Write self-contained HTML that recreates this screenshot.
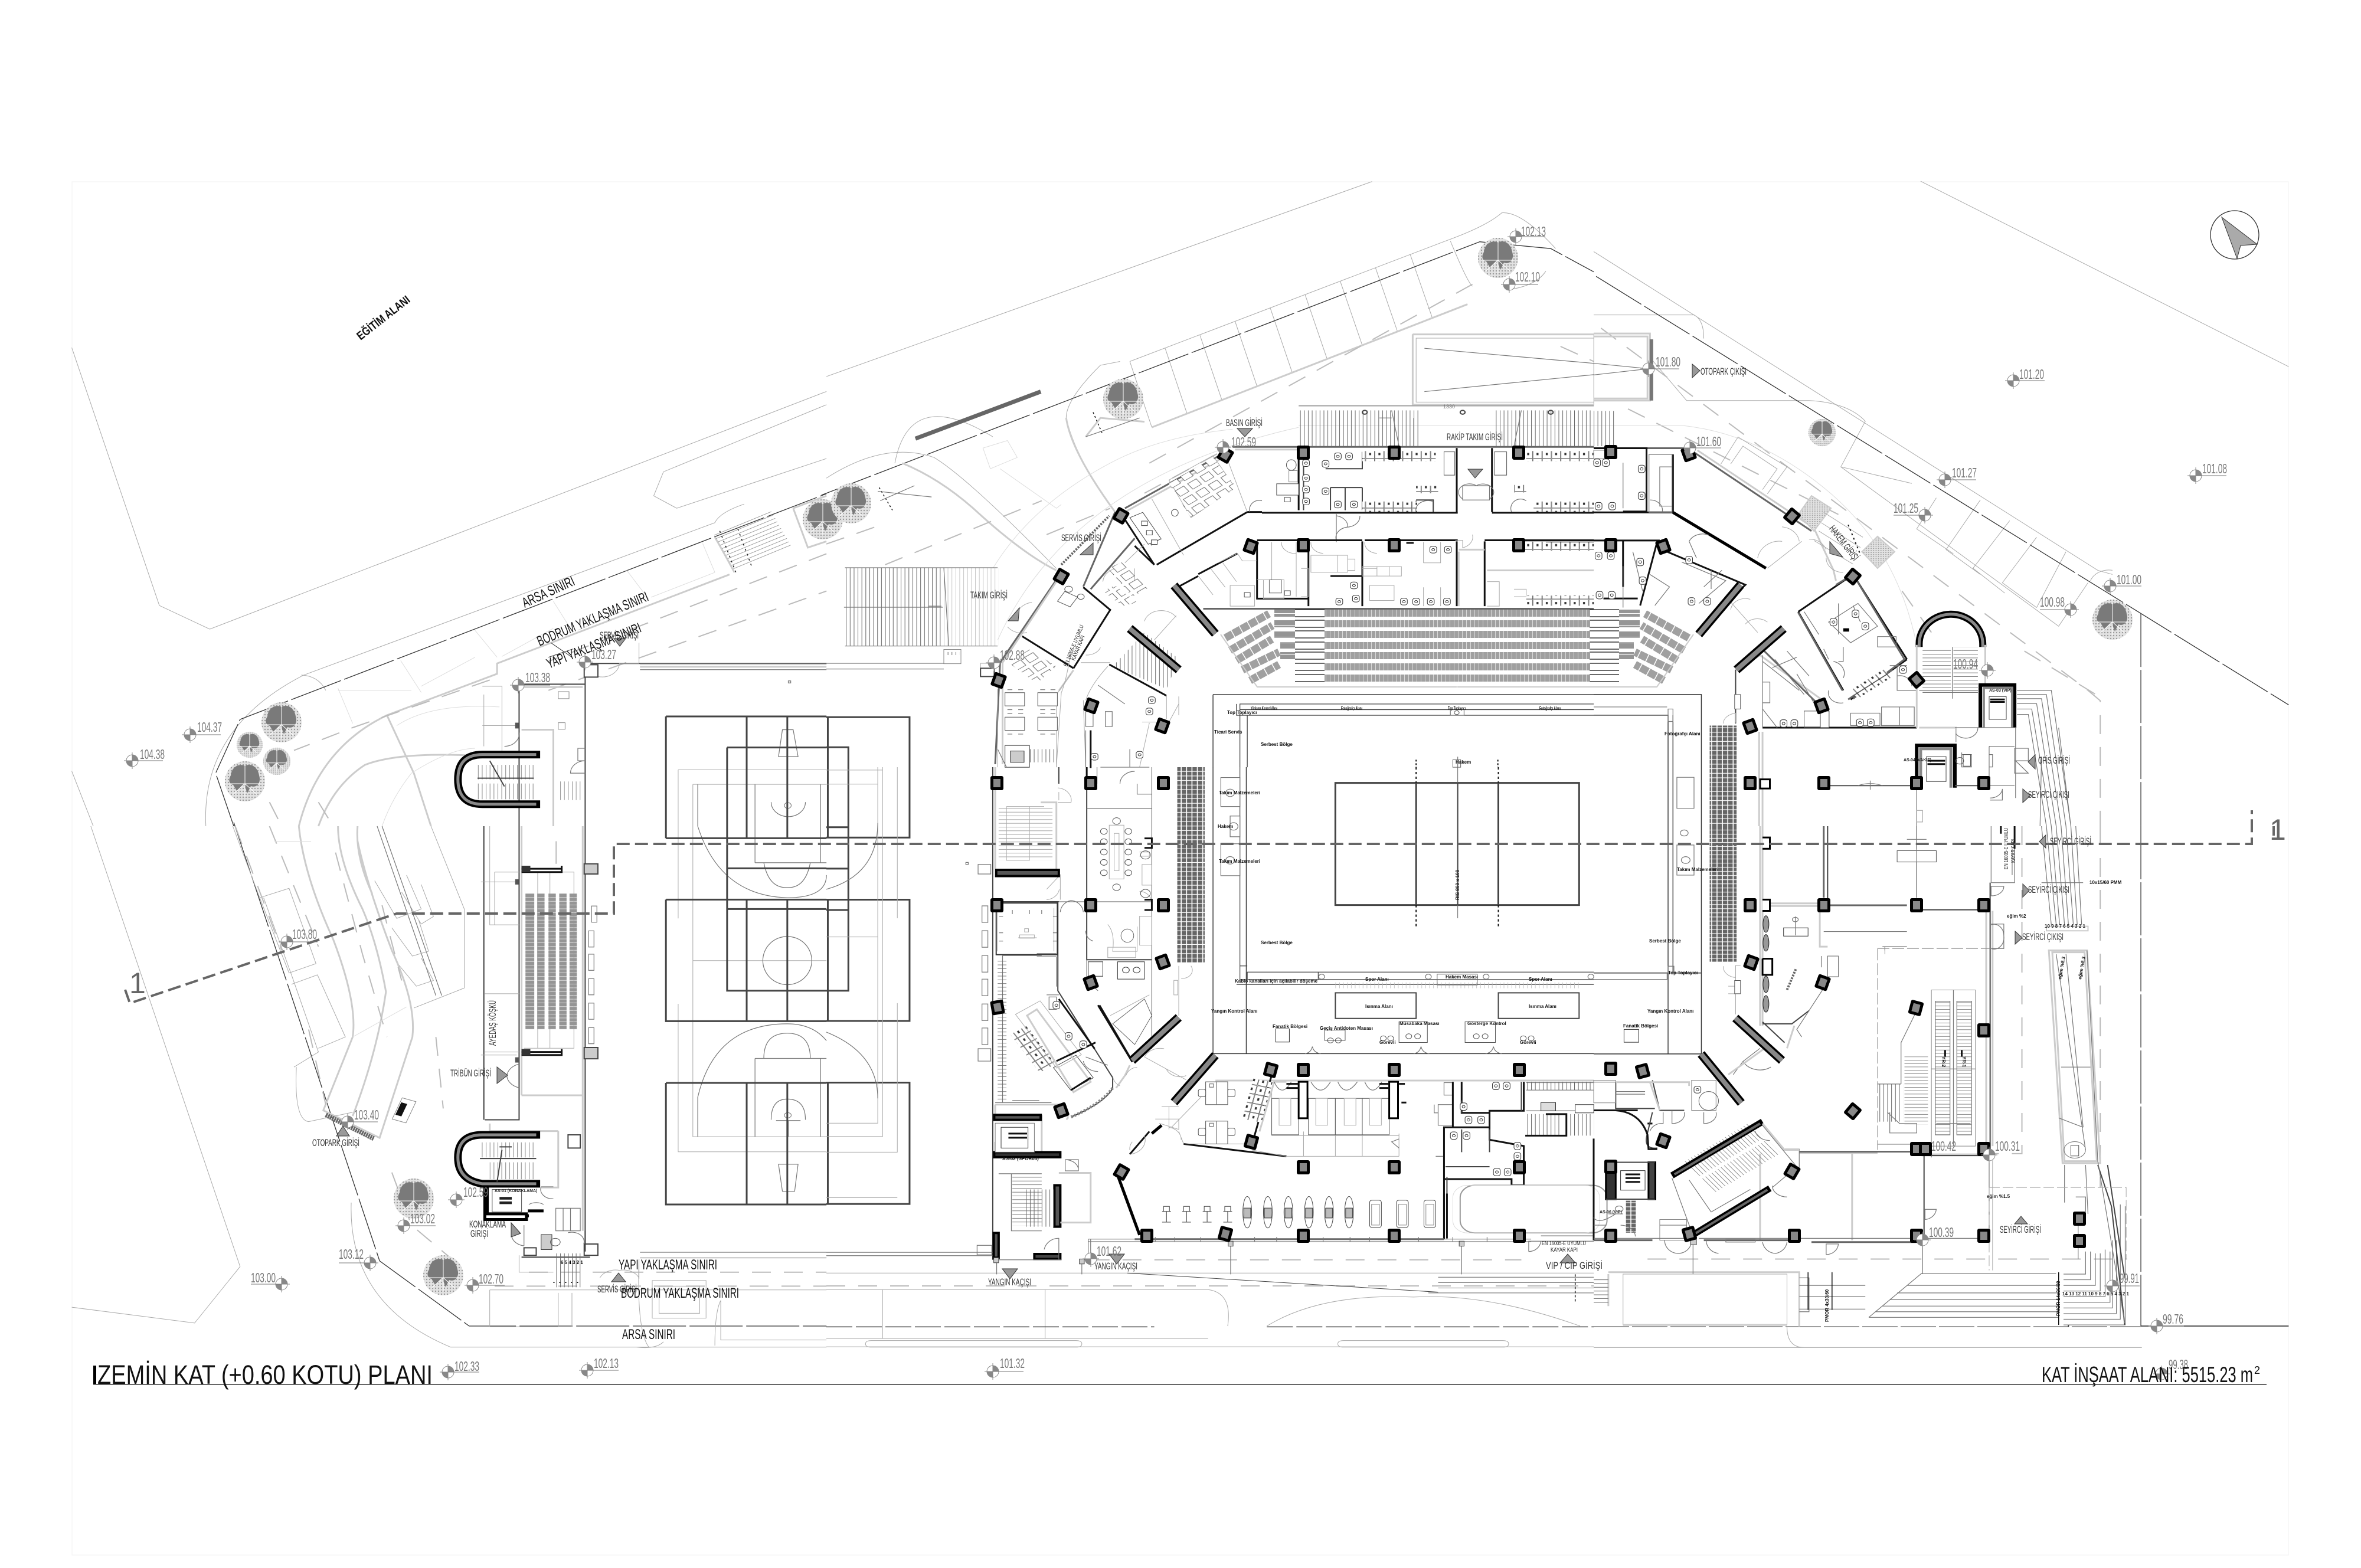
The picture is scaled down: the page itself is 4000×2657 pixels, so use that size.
<!DOCTYPE html>
<html lang="tr"><head><meta charset="utf-8"><title>Zemin Kat Planı</title>
<style>
html,body{margin:0;padding:0;background:#fff}
svg{display:block}
svg *{vector-effect:non-scaling-stroke}
text{font-family:"Liberation Sans",sans-serif;fill:#222}
.e{fill:#777;font-size:23px}
.s{fill:#333;font-size:17px}
.b{fill:#111;font-size:24px}
.m{fill:#111;font-size:8px;font-weight:bold}
.t{stroke:#aaa;stroke-width:1;fill:none}
.v{stroke:#ddd;stroke-width:1;fill:none}
.g{stroke:#777;stroke-width:1.2;fill:none}
.l{stroke:#ccc;stroke-width:3;fill:none}
.ld{stroke:#bbb;stroke-width:2;fill:none;stroke-dasharray:32 22}
.d{stroke:#444;stroke-width:2;fill:none}
.k{stroke:#111;stroke-width:3;fill:none}
.h{stroke:#000;stroke-width:5;fill:none}
.w{stroke:#666;stroke-width:3;fill:none}
.bd{stroke:#333;stroke-width:1.3;fill:none;stroke-dasharray:90 6}
.c3{stroke:#444;stroke-width:3;fill:none}
.tri{fill:#999;stroke:#333;stroke-width:1}
</style></head><body>
<svg xmlns="http://www.w3.org/2000/svg" width="4000" height="2657" viewBox="0 0 4000 2657">
<defs>
<pattern id="hv" width="8" height="10" patternUnits="userSpaceOnUse"><rect x="0" width="1.2" height="10" fill="#666"/></pattern>
<pattern id="hh" width="10" height="9" patternUnits="userSpaceOnUse"><rect y="0" width="10" height="1.2" fill="#666"/></pattern>
<pattern id="hl" width="8" height="10" patternUnits="userSpaceOnUse"><rect x="0" width="1" height="10" fill="#bbb"/></pattern>
<pattern id="sg" width="11" height="11" patternUnits="userSpaceOnUse"><rect width="9" height="9.4" fill="#666"/></pattern>
<pattern id="sr" width="7" height="12" patternUnits="userSpaceOnUse"><rect width="6.4" height="12" fill="#a0a0a0"/></pattern>
<pattern id="se" width="15" height="10" patternUnits="userSpaceOnUse"><rect width="15" height="9" fill="#959595"/></pattern>
<pattern id="lk" width="19" height="22" patternUnits="userSpaceOnUse"><rect width="18" height="21" fill="#fff" stroke="#333" stroke-width="1"/><rect x="7" y="7" width="4" height="6" fill="#333"/></pattern>
<pattern id="st" width="5" height="5" patternUnits="userSpaceOnUse"><rect width="5" height="5" fill="#e2e2e2"/><circle cx="2" cy="2" r="1.2" fill="#999"/></pattern>
<pattern id="ds" width="32" height="28" patternUnits="userSpaceOnUse" patternTransform="rotate(-37)"><rect x="3" y="3" width="22" height="18" fill="#fff" stroke="#555" stroke-width="1.2"/></pattern>
<g id="col"><rect x="-11" y="-12" width="22" height="24" rx="3" fill="#000"/><rect x="-6" y="-7" width="12" height="14" fill="#888"/></g>
<g id="tree"><circle r="34" fill="url(#st)"/><path d="M-24 -10C-22 -28-6-30 0-26 10-32 22-24 24-10 28 2 20 12 10 8L4 20-2 4-14 16-20 6C-28 4-28-4-24-10Z" fill="#7a7a7a"/><path d="M0 -28V26M0 4L-20 22M0 4L20 22M0 4L-26 4M0 4L26 4" stroke="#fff" stroke-width="1" fill="none"/></g>
<g id="mk"><circle r="10" fill="#fff" stroke="#888" stroke-width="1"/><path d="M0 -10A10 10 0 0 1 10 0H0ZM0 10A10 10 0 0 1-10 0H0Z" fill="#888"/><path d="M-14 0H14M0 -14V14" stroke="#888" stroke-width="1"/></g>
<g id="toi"><rect x="-7" y="-9" width="14" height="18" rx="5" fill="#fff" stroke="#333"/><circle r="3" fill="none" stroke="#333"/></g>
<g id="chr"><rect x="-6" y="-6" width="12" height="12" fill="#fff" stroke="#444"/></g>
<g id="sb"><path d="M0 -12V14M-9 14H9M-9 -12H9" stroke="#555" stroke-width="1.2" fill="none"/><rect x="-6" y="-24" width="12" height="12" fill="#fff" stroke="#444"/></g>
<g id="ell"><ellipse cx="0" cy="0" rx="9" ry="38" fill="#fff" stroke="#444"/><rect x="-7" y="-10" width="14" height="24" fill="#bbb" stroke="#333"/></g>
<g id="trd"><rect x="-12" y="-34" width="24" height="66" rx="5" fill="#fff" stroke="#444"/><rect x="-8" y="-24" width="16" height="50" fill="none" stroke="#888"/></g>
</defs>
<rect width="4000" height="2657" fill="#fff"/>
<rect x="122" y="308" width="3755" height="2327" fill="none" stroke="#f0f0f0" stroke-width="1"/>

<!-- Z1 NW -->
<g transform="translate(100,300) scale(.8292,.7015)">
<path class="t" d="M26 412L205 1035 308 1092 1568 518"/>
<path class="t" d="M300 1568Q290 1330 500 1203L1340 835Q1350 810 1400 790M1215 770L1235 712 1568 550M1215 770L1262 800 1568 680M495 1203Q530 1205 545 1240M26 1435L70 1568"/>
<path class="bd" d="M357 1568L320 1440 370 1310 1568 765"/>
<path class="v" d="M570 1235L600 1320M698 1168L740 1245M850 1095L895 1160M1010 1025L1050 1100M1160 950L1205 1020M1315 885L1340 955M570 1240L720 1240M740 1230L850 1160M905 1158L1010 1090M1060 1095L1185 1030M1210 1015L1340 955"/>
<path class="l" d="M1370 960L895 1175V1200L670 1300Q530 1380 490 1568M1340 870Q1355 900 1380 955M1500 800L1530 895 1568 880M1500 800L1568 770"/>
<path class="l" d="M670 1300L725 1440 760 1568M530 1568Q560 1470 625 1420 700 1385 880 1400"/>
<path class="ld" d="M1568 910L1000 1170M880 1215L600 1330 480 1385M430 1510L455 1568M530 1510L560 1568M1000 1240L1568 1000"/>
<path class="v" d="M690 1325Q760 1270 900 1280M720 1440Q800 1380 850 1380M660 1568Q680 1500 720 1440"/>
<rect x="1380" y="850" width="130" height="100" fill="url(#hh)" transform="rotate(-26 1380 950)" opacity=".7"/>
<path d="M1350 855L1383 955M1387 850L1415 940" stroke="#111" stroke-width="1.5" stroke-dasharray="3 6" fill="none"/>
<!-- west room -->
<path class="d" d="M1075 1175V1568M940 1225H1075M940 1225V1568M1086 1175H1568"/>
<path class="l" d="M1187 1183H1568M945 1232H1070M945 1335H1010V1568"/>
<path class="g" d="M1187 1176H1568M1187 1190H1568"/>
<path class="t" d="M865 1230H905V1390M868 1250V1375M865 1325H935M1075 1170A30 30 0 0 0 1145 1175H1185V1125"/>
<rect x="1073" y="1178" width="28" height="30" fill="#fff" stroke="#444" stroke-width="2"/>
<rect x="932" y="1318" width="7" height="14" fill="#555"/>
<rect x="1020" y="1243" width="22" height="17" fill="#fff" stroke="#888"/>
<rect x="1020" y="1318" width="14" height="16" fill="#fff" stroke="#888"/>
<path d="M1005 1125L1048 1160M1000 1160L1050 1140" stroke="#333" stroke-width="1"/>
<!-- stair U -->
<path d="M983 1395H865Q815 1395 815 1455T865 1515H983" fill="none" stroke="#000" stroke-width="13"/>
<path d="M975 1395H865Q815 1395 815 1455T865 1515H975" fill="none" stroke="#888" stroke-width="5"/>
<rect x="855" y="1420" width="115" height="35" fill="url(#hv)" opacity=".8"/>
<rect x="855" y="1465" width="115" height="38" fill="url(#hv)" opacity=".8"/>
<rect x="1020" y="1460" width="50" height="45" fill="url(#hv)" opacity=".7"/>
<path class="d" d="M855 1452H970M880 1410L910 1472"/>
<path class="g" d="M1075 1380H1060V1410H1075M1075 1440H1045A30 30 0 0 1 1075 1410M940 1342A30 30 0 0 1 910 1375M1490 1217h5v5h-5z"/>
<!-- courts -->
<path class="t" d="M1265 1432H1568M1265 1432V1568M1295 1467H1568M1295 1467V1568"/>
<path class="g" d="M1470 1400L1478 1335H1500L1510 1400ZM1455 1510A35 35 0 0 0 1525 1510M1422 1467V1568M1556 1467V1568M1305 1467V1568"/>
<circle cx="1489" cy="1518" r="7" fill="none" stroke="#777"/>
<path class="c3" d="M1240 1303H1568M1240 1303V1568M1405 1303V1568M1488 1303V1568M1365 1378H1568M1365 1378V1568"/>
</g>

<!-- Z2 SW -->
<g transform="translate(100,1400) scale(.8292,.6378)">
<path class="t" d="M65 0L370 1170 277 1320 26 1278"/>
<path class="bd" d="M357 -10L655 1155 838 1328H1568"/>
<path class="t" d="M597 1000Q590 1270 800 1384H1180Q1220 1390 1235 1370M1205 1384Q1180 1340 1185 1150M1352 1260V1365H1568M1352 1260Q1340 1290 1340 1380M880 1232V1330H1020V1240M1048 1240V1330M880 1232H1568M835 1384H1568"/>
<path class="l" d="M490 0Q500 130 560 300 610 470 600 560L540 755 655 828 722 560Q730 470 680 330 630 160 610 40M570 0Q570 90 620 220 650 310 668 440 650 600 600 770M610 0Q605 80 640 180"/>
<path class="g" d="M650 0L770 450M660 0L782 450"/>
<path class="t" d="M760 0L828 220V430L725 483M485 640Q480 780 510 785L600 760M410 190L470 165 525 365 470 390ZM418 190L475 395 530 600 480 640M475 420L528 395 585 560 530 590M355 0L410 190M680 270L722 345 755 332 735 250M645 145L690 245 740 220 710 130M695 370L730 425 765 410 740 350M700 175L740 260 765 240 740 155"/>
<path class="ld" d="M360 0L455 330 M510 540L545 740M430 0L530 320M565 70L620 340 670 560M660 210L700 410M770 560L785 750M680 920L720 1060 830 1180M960 1185H1568M890 1222H1568"/>
<path class="v" d="M440 40L515 40 M600 560L710 480"/>
<!-- otopark bar -->
<path d="M545 767L643 830" stroke="#666" stroke-width="8" stroke-dasharray="3 1"/>
<rect x="690" y="725" width="30" height="60" transform="rotate(20 705 755)" fill="#fff" stroke="#888"/>
<rect x="693" y="735" width="13" height="35" transform="rotate(20 700 752)" fill="#111"/>
<!-- west wing -->
<path class="d" d="M1075 0V1130M940 0V780H870M1075 1130V1075M868 0V780"/>
<path class="l" d="M1070 0V1075M945 715H1070M945 0V715M1070 710V1070M1020 810V960H985M1016 40V100M1020 810H880V790"/>
<path class="t" d="M880 0V262H940M890 122H940M890 122V262M870 445H940M870 600H940M862 148H935M862 608H935M947 122H1052V590H950M978 122V590M1003 122V590"/>
<path class="g" d="M1088 212h11v43h-11zM1082 278h11v43h-11zM1082 340h11v43h-11zM1082 405h11v43h-11zM1082 470h11v43h-11zM1082 535h11v43h-11z"/>
<rect x="953" y="178" width="18" height="362" fill="url(#se)"/><rect x="977" y="178" width="15" height="362" fill="url(#se)"/><rect x="1000" y="178" width="15" height="362" fill="url(#se)"/><rect x="1022" y="178" width="15" height="362" fill="url(#se)"/><rect x="1043" y="178" width="15" height="362" fill="url(#se)"/>
<path d="M945 113H1027V105M945 122H1027V105M945 600H1027V592M945 608H1027V592" class="k"/>
<rect x="945" y="105" width="18" height="17" fill="#333"/><rect x="945" y="592" width="18" height="17" fill="#333"/>
<rect x="1073" y="100" width="28" height="27" fill="#ccc" stroke="#444" stroke-width="2"/><rect x="1073" y="588" width="28" height="30" fill="#ccc" stroke="#444" stroke-width="2"/><rect x="1073" y="1110" width="28" height="30" fill="#fff" stroke="#444" stroke-width="2"/>
<rect x="932" y="141" width="7" height="14" fill="#555"/><rect x="932" y="614" width="8" height="14" fill="#555"/>
<path class="g" d="M940 632A35 35 0 0 0 915 665M940 695A35 35 0 0 1 915 662"/>
<path class="d" d="M1040 820h25v35h-25zM940 975"/>
<!-- stair U -->
<path d="M983 820H865Q815 820 815 880T865 950H983" fill="none" stroke="#000" stroke-width="13"/>
<path d="M975 820H865Q815 820 815 880T865 950H975" fill="none" stroke="#888" stroke-width="5"/>
<rect x="860" y="840" width="110" height="40" fill="url(#hv)" opacity=".8"/>
<rect x="880" y="893" width="90" height="45" fill="url(#hv)" opacity=".8"/>
<path class="d" d="M860 883H975M905 860L895 945M900 852H925"/>
<!-- lift -->
<path d="M875 958V1030H955V1045H870V958" stroke="#000" stroke-width="5" fill="#fff"/>
<rect x="885" y="965" width="60" height="60" fill="#fff" stroke="#555"/>
<path d="M900 985H925V992H900ZM900 997H925V1004H900Z" fill="#222"/>
<path d="M958 1022H990M955 1035H960" class="h"/>
<path class="g" d="M985 958A25 25 0 0 0 1010 990M985 958H1010M960 1005A25 25 0 0 1 990 1005M1015 1015H1065V1075H1015ZM1030 1075V1015M1045 1075V1015M1040 1080A25 25 0 0 1 1072 1110M925 1090A30 30 0 0 0 950 1115M950 1060V1115"/>
<rect x="985" y="1085" width="22" height="40" fill="#ccc" stroke="#333"/><circle cx="1014" cy="1105" r="10" fill="none" stroke="#555"/>
<path class="d" d="M950 1120H975V1140H950ZM945 1145H1085M1075 1075V1130"/>
<rect x="1015" y="1135" width="55" height="90" fill="url(#hv)"/>
<path d="M1010 1212H1070" stroke="#111" stroke-width="2" stroke-dasharray="2 8"/>
<path class="g" d="M1187 1132H1568M1187 1147H1568"/>
<path class="t" d="M1105 1200A35 35 0 0 1 1145 1180A35 35 0 0 1 1185 1200V1150M940 1140V1185H1010M1212 1207h110v100h-110zM1226 1222h83v72h-83z"/>
<!-- courts -->
<path class="t" d="M1265 0V245M1265 472V865H1568M1295 0V825H1568M1295 357H1568"/>
<path class="g" d="M1305 0Q1350 185 1488 190 1568 190 1568 130M1305 825V720Q1340 525 1488 525 1540 525 1568 570M1422 617H1568M1422 617V825M1422 97H1568M1422 0V97M1556 0V97M1556 617V825M1440 97Q1450 165 1488 163 1525 165 1535 97M1440 617Q1440 550 1488 550 1535 550 1535 617M1455 780Q1455 725 1488 725 1525 725 1525 780M1465 782H1515M1490 825V782"/>
<ellipse cx="1488" cy="357" rx="50" ry="64" class="g"/>
<circle cx="1489" cy="768" r="7" fill="none" stroke="#777"/>
<path class="g" d="M1470 898H1510L1503 970H1478Z"/>
<path class="c3" d="M1240 32H1568M1240 0V32M1240 195H1568M1240 195V518H1568M1240 682H1568M1240 682V1005H1568M1405 0V32M1405 195V518M1405 682V1005M1488 0V32M1488 195V518M1488 682V1005M1365 0V437H1568M1365 112H1568M1365 220H1568"/>
</g>

<!-- Z3 north -->
<g transform="translate(1400,300) scale(.8292,.6378)">
<path class="t" d="M0 530L1115 12"/>
<path class="t" d="M0 800Q120 700 220 745 290 800 470 1040M140 760Q170 555 340 690M490 640Q490 590 560 500L600 490M490 640Q510 750 590 890M620 490L1265 170M1265 170Q1350 130 1380 95 1420 90 1490 190M1275 170Q1310 280 1320 290M1470 250Q1450 290 1390 300"/>
<path class="t" d="M692 454L737 629M763 419L808 592M835 383L880 556M907 348L952 520M978 312L1023 483M1050 277L1095 447M1122 241L1167 411M1193 206L1238 374M620 490L665 665"/>
<path class="bd" d="M-10 845L1335 172 1480 190 1568 252"/>
<path class="l" d="M665 665L1310 338M155 760Q230 800 300 880 400 1000 470 1045M490 640Q500 730 590 890M530 690L560 640 650 650"/>
<path class="ld" d="M0 975L110 925M120 1030L440 860M660 760L1320 285M1500 450L1568 490M450 950L580 880M650 840L820 720"/>
<path class="v" d="M320 720L370 700 390 745 335 775ZM355 775L470 880 480 870M965 660H1568M340 1040Q420 870 580 760 680 690 830 670M350 1230Q500 800 965 665"/>
<path d="M182 695L438 570" stroke="#666" stroke-width="7"/>
<path d="M480 1030L578 900" stroke="#666" stroke-width="4" stroke-dasharray="3 2"/>
<path d="M545 625L565 685M108 825L135 885" stroke="#111" stroke-width="1.5" stroke-dasharray="3 4" fill="none"/>
<path class="g" d="M105 835L215 850M530 690L640 640M110 860L180 820"/>
<!-- stairs -->
<rect x="965" y="620" width="250" height="95" fill="url(#hv)"/><rect x="1365" y="620" width="203" height="95" fill="url(#hv)"/>
<rect x="38" y="1038" width="200" height="208" fill="url(#hv)"/><rect x="240" y="1038" width="112" height="208" fill="url(#hl)"/>
<path class="g" d="M36 1143H238M208 1140H235M38 1038H350M38 1246H350M240 1038L250 1246M965 608H1568M1155 620L1170 715M1420 620L1405 715M1130 640H1155M1200 640V715"/>
<circle cx="1100" cy="625" r="5" fill="none" stroke="#444" stroke-width="2"/><circle cx="1300" cy="625" r="5" fill="none" stroke="#444" stroke-width="2"/><circle cx="1480" cy="625" r="5" fill="none" stroke="#444" stroke-width="2"/>
<path class="t" d="M1198 418H1568V605H1198ZM1205 428H1568V598H1205Z"/>
<path class="l" d="M1198 418H1568M1198 418V605H1568"/>
<path class="g" d="M1222 455L1568 495M1222 570L1568 525"/>
<!-- press room -->
<path class="w" d="M610 880L810 735M830 717H1568"/>
<path class="k" d="M675 1030L860 890H890M605 900L670 1030M890 892H1290M1360 892H1568M965 730V885M1288 720V890M1360 720V890"/>
<path class="l" d="M610 890L815 742M835 724H965"/>
<path class="t" d="M815 735L860 890M700 805L790 740 835 825 745 905ZM630 915L665 980M665 855L730 1005"/>
<polygon points="700,815 790,745 838,825 745,905" fill="url(#ds)"/>
<rect x="640" y="895" width="30" height="80" transform="rotate(-28 650 940)" fill="#fff" stroke="#444"/>
<use href="#chr" x="650" y="920"/><use href="#chr" x="660" y="945"/><use href="#chr" x="670" y="970"/><ellipse cx="712" cy="892" rx="7" ry="9" fill="none" stroke="#555"/>
<path class="k" d="M630 980L670 1030"/>
<!-- rooms row1 -->
<path class="d" d="M975 738V885M1095 730V775H1020M1095 825V885M1030 825V885M1060 825V885M1205 860V885M1205 858H1240V890M1030 825H1095"/>
<rect x="1095" y="728" width="150" height="27" fill="url(#lk)"/><rect x="1430" y="728" width="138" height="27" fill="url(#lk)"/>
<rect x="1095" y="862" width="112" height="27" fill="url(#lk)"/><rect x="1445" y="862" width="123" height="27" fill="url(#lk)"/>
<rect x="1205" y="820" width="45" height="20" fill="url(#lk)"/><rect x="1405" y="818" width="25" height="20" fill="url(#lk)"/>
<rect x="1262" y="730" width="22" height="62" fill="#fff" stroke="#555"/><rect x="1365" y="730" width="25" height="62" fill="#fff" stroke="#555"/>
<rect x="920" y="815" width="45" height="30" fill="#fff" stroke="#555"/><use href="#chr" x="942" y="857"/><ellipse cx="950" cy="765" rx="10" ry="14" fill="none" stroke="#555"/><rect x="945" y="780" width="18" height="30" fill="none" stroke="#888"/>
<use href="#toi" x="1045" y="742"/><use href="#toi" x="1068" y="742"/><use href="#toi" x="1045" y="870"/><use href="#toi" x="1078" y="870"/><use href="#toi" x="980" y="760"/><use href="#toi" x="980" y="800"/><use href="#toi" x="980" y="830"/><use href="#toi" x="980" y="862"/><use href="#toi" x="1020" y="762"/><use href="#toi" x="1020" y="835"/>
<path class="g" d="M865 890A20 25 0 0 1 890 860M1240 862A25 25 0 0 0 1205 890M1300 820H1355V858H1300ZM1300 855A20 20 0 0 1 1328 820M1355 855A20 20 0 0 0 1328 820M1400 890A20 25 0 0 1 1430 860M1042 895V970M1042 900A28 28 0 0 1 1065 930M1065 930A28 28 0 0 0 1090 900M1042 965A28 28 0 0 1 1065 930"/>
<!-- rooms row2 -->
<path class="k" d="M880 965H1090M1015 965H1095M1100 965H1290M1345 965H1568M880 968V1120H985M985 968V1140M1095 968V1140M1030 1060H1095V1140M1345 968V1140M1288 968V1140M840 1000L760 1055M760 1060L710 1095"/>
<path class="w" d="M770 1147H1568"/>
<path class="l" d="M1292 990H1345M1292 995V1140M1350 1045H1568"/>
<path class="t" d="M910 970V1070H880M893 1070H935V1120H893ZM990 1005H1065V1050H990ZM1045 1005V1050M1065 1015H1080V1045H1065ZM960 970V1115M970 1040H985V1115H970M825 1085H875V1140H825ZM825 1140V1085M800 1025L840 1000 850 1020H880M1220 970V1025M1255 970V1025H1220M1110 1085L1160 1085V1125H1110ZM1285 965L1300 965V985A30 30 0 0 0 1320 950M1220 1090V1140M1255 1090V1140M1350 1075H1375V1140H1350M1405 1095H1430V1115H1405"/>
<path class="t" d="M1095 1035H1175V1060H1095ZM1095 1040H1125V1060M1125 1035V1060M1150 1035V1060M930 970A28 28 0 0 0 960 1000M990 970A28 28 0 0 0 1015 1000M1100 970A28 28 0 0 0 1125 1000"/>
<rect x="1430" y="1112" width="138" height="27" fill="url(#lk)"/><rect x="1425" y="968" width="143" height="25" fill="url(#lk)"/>
<path class="t" d="M760 1060L790 1110M785 1040L815 1090 M810 1025L838 1075"/>
<use href="#toi" x="1048" y="1128"/><use href="#toi" x="1082" y="1120"/><use href="#toi" x="1180" y="1128"/><use href="#toi" x="1205" y="1128"/><use href="#toi" x="1235" y="1128"/><use href="#toi" x="1268" y="1128"/><use href="#toi" x="1240" y="990"/><use href="#toi" x="1270" y="990"/><use href="#toi" x="1078" y="1085"/>
<rect x="905" y="1070" width="25" height="35" fill="none" stroke="#666"/><use href="#chr" x="942" y="1105"/><use href="#chr" x="860" y="1110"/>
<path class="k" d="M1185 972H1200M1270 1130"/>
<path d="M1470 970H1568" stroke="#222" stroke-width="0.8"/>
<!-- servis/kayar -->
<path class="k" d="M525 1090L580 1150 505 1305M400 1220L505 1305"/>
<path class="w" d="M470 1070L355 1290 345 1560M525 1088L590 890M540 1095L630 960"/>
<path class="l" d="M470 1075L360 1290V1560M475 1365L505 1310"/>
<path class="t" d="M385 1180A40 50 0 0 1 420 1130M370 1195A40 50 0 0 0 410 1210M610 1025L650 975M590 1040A40 40 0 0 0 565 1075M630 1040V1075"/>
<g fill="none" stroke="#555"><rect x="478" y="1105" width="30" height="30" transform="rotate(30 490 1120)"/><circle cx="495" cy="1095" r="8"/><circle cx="520" cy="1115" r="7"/></g>
<polygon points="575,1040 610,1020 660,1090 625,1115" fill="url(#ds)"/>
<polygon points="565,1100 590,1085 635,1130 605,1140" fill="url(#ds)"/>
<!-- stair NW -->
<polygon points="585,1300 650,1210 720,1280 695,1360" fill="url(#hv)"/>
<path class="k" d="M578 1295L695 1378"/>
<path class="t" d="M650 1180A35 35 0 0 1 715 1170M715 1165L670 1230M560 1250A30 30 0 0 1 530 1270M500 1260Q490 1340 480 1370M480 1370L470 1568M520 1290L580 1290M575 1300Q540 1350 530 1390 M525 1390L530 1568M660 1450L640 1568M695 1375V1440M720 1380V1430M645 1448H700L720 1400"/>
<rect x="240" y="1255" width="35" height="38" fill="#fff" stroke="#888"/><rect x="244" y="1262" width="28" height="8" fill="url(#hv)"/>
<path class="g" d="M0 1292H240M0 1307H240"/>
<path class="t" d="M315 1292H340V1322H315ZM0 1292"/>
<rect x="315" y="1305" width="28" height="22" fill="#fff" stroke="#444" stroke-width="2"/>
<path class="k" d="M540 1570V1470"/>
<!-- dining -->
<path class="t" d="M350 1360V1568M470 1375V1568M470 1375L500 1320"/>
<g fill="#fff" stroke="#555"><rect x="365" y="1370" width="40" height="35"/><rect x="432" y="1370" width="40" height="35"/><rect x="365" y="1435" width="40" height="35"/><rect x="432" y="1435" width="40" height="35"/></g>
<path class="g" d="M370 1362h10M392 1362h10M370 1415h10M392 1415h10M437 1362h10M458 1362h10M437 1415h10M458 1415h10M370 1425h10M392 1425h10M370 1480h10M392 1480h10M437 1425h10M458 1425h10M437 1480h10M458 1480h10"/>
<polygon points="372,1290 415,1255 470,1300 430,1345" fill="url(#ds)"/>
<rect x="365" y="1510" width="50" height="58" fill="#fff" stroke="#333"/><rect x="376" y="1525" width="28" height="30" fill="#ccc" stroke="#333"/>
<rect x="415" y="1520" width="55" height="35" fill="url(#hv)"/>
<path class="g" d="M350 1520L368 1568M530 1470V1568M555 1350L610 1400M570 1420h14v40h-14zM530 1420h15v40h-15zM560 1568H660M620 1520V1568"/>
<use href="#toi" x="548" y="1540"/><use href="#toi" x="640" y="1535"/><use href="#toi" x="665" y="1390"/><use href="#toi" x="660" y="1420"/>
<!-- courts tail -->
<path class="c3" d="M0 1435H170V1568M0 1515H45V1568M3 1435V1568"/>
<!-- field -->
<path d="M790 1375V1568M790 1375H1568" stroke="#333" stroke-width="1.4" fill="none"/>
<path d="M845 1568V1400H1568M860 1568V1430H1568M845 1415H1568M838 1400V1430H860" stroke="#333" stroke-width="1.2" fill="none"/>
<path class="g" d="M1275 1415V1430H1303V1415M1290 1540V1568"/>
<circle cx="1288" cy="1423" r="5" fill="none" stroke="#555"/>
<path d="M1205 1548V1568M1372 1548V1568" stroke="#111" stroke-width="2" stroke-dasharray="3 3"/>
<rect x="1280" y="1548" width="16" height="20" fill="none" stroke="#666"/>
</g>

<!-- Z4 south-middle -->
<g transform="translate(1400,1300) scale(.8292,.7015)">
<path class="d" d="M340 0V1190M345 325H475M473 325V540L585 750V775Q570 810 500 845M532 100V465H665M475 0V40M532 0V100"/>
<path class="t" d="M0 1262H780M0 1400H1568M0 1222H1568M115 1262V1380M447 1262V1380M780 1262Q830 1270 820 1350M900 1350Q1010 1270 1200 1280 1350 1270 1540 1350M0 1380H780"/>
<path d="M0 1352H670M900 1352H1568" stroke="#222" stroke-width="1.4" stroke-dasharray="44 6" fill="none"/>
<path class="ld" d="M0 1253H1568M540 1190H1420"/>
<path class="t" d="M80 1393Q80 1385 92 1385H510Q522 1385 522 1393T510 1401H92Q80 1401 80 1393ZM1045 1393Q1045 1385 1057 1385H1382Q1394 1385 1394 1393T1382 1401H1057Q1045 1401 1045 1393Z"/>
<path d="M615 1222L1250 1268" stroke="#444" stroke-width="1" fill="none"/>
<path d="M1250 1232H1568M1250 1245H1568M1250 1258H1568M1230 1270H1568" stroke="#666" stroke-width="1" fill="none"/>
<!-- courts lines -->
<path class="c3" d="M0 145H45M0 170H170V0M45 0V540H0M0 245H45M0 320H170V613H0M0 345H45M0 762H170V1055H0M0 1055M3 0V170M3 320V613M3 762V1055"/>
<path class="t" d="M0 7H115M0 41H105M0 1040H145M145 0V365M145 570V930H0M115 0V892H0M105 0V860H0M0 410H105"/>
<path class="g" d="M105 135Q105 260 0 295M0 640Q105 690 105 800"/>
<path class="g" d="M285 230h5v5h-5zM0 1180H340M0 1172H340"/>
<path class="g" d="M310 235H336V258H310ZM310 680H336V710H310ZM308 1155H338V1178H308ZM318 335h12v40h-12zM318 395h12v40h-12zM318 455h12v40h-12zM318 512h12v40h-12zM318 572h12v40h-12zM318 630h12v40h-12z"/>
<!-- stairs -->
<rect x="352" y="95" width="110" height="130" fill="url(#hh)" opacity=".7"/>
<path class="l" d="M345 0V245M470 85V250M438 85H470V240M345 815H480Q500 850 490 850M345 815V838M345 905V930M440 840V930"/>
<path class="t" d="M368 95H445M368 95V225H415V95M473 50A30 30 0 0 1 500 85H473M450 295L478 260V320M476 295A28 30 0 0 1 450 320M475 60V80"/>
<rect x="347" y="248" width="128" height="15" fill="#555" stroke="#000" stroke-width="4"/>
<rect x="343" y="840" width="95" height="12" fill="#555" stroke="#000" stroke-width="4"/>
<rect x="343" y="930" width="135" height="12" fill="#333" stroke="#000" stroke-width="4"/>
<rect x="466" y="1010" width="12" height="100" fill="#555" stroke="#000" stroke-width="4"/>
<rect x="342" y="1125" width="10" height="60" fill="#555" stroke="#000" stroke-width="4"/>
<rect x="425" y="1176" width="53" height="12" fill="#444" stroke="#000" stroke-width="4"/>
<!-- Z4 rooms -->
<rect x="347" y="328" width="125" height="125" fill="#fff" stroke="#333" stroke-width="2"/>
<path class="g" d="M360 455H440M360 455V810H345M355 810H460M430 450H470M430 458H470V530M380 805H435"/>
<rect x="350" y="465" width="18" height="340" fill="url(#hh)"/>
<path class="t" d="M350 340V445M465 340V445M392 412H430M405 390h8v8h-8zM395 405h30v8h-30z"/>
<path class="g" d="M353 360h8M353 400h8M353 420h8M463 360h8M463 400h8M463 420h8M380 345v10M415 345v10M440 345v10"/>
<g transform="rotate(-33 470 680)"><rect x="410" y="600" width="40" height="110" fill="url(#lk)"/><rect x="440" y="715" width="55" height="65" fill="#fff" stroke="#444"/><rect x="445" y="565" width="60" height="155" fill="none" stroke="#aaa"/></g>
<path class="l" d="M410 600L430 585 540 760 505 785Z"/>
<path class="k" d="M475 560L548 680M470 710L550 665M500 780L540 750"/>
<path class="g" d="M450 550H475M455 555h15v30h-15zM530 700L575 720M525 710A30 30 0 0 0 555 735"/>
<use href="#toi" x="495" y="650"/><use href="#toi" x="525" y="670"/><use href="#toi" x="470" y="575"/>
<path d="M500 845Q560 815 585 775" stroke="#888" stroke-width="5" stroke-dasharray="3 3" fill="none"/>
<!-- meeting -->
<path class="g" d="M532 100H665M665 0V680M532 325H665M532 465V515L555 540M665 465V500"/>
<path class="t" d="M578 140H608V270H578ZM588 160H598V250H588ZM645 235H665V285H645ZM640 205h20v10h-20M575 380Q590 400 585 445H635V385M640 360H665V430H640ZM575 435H632V460H575ZM640 300A25 30 0 0 1 665 325"/>
<ellipse cx="615" cy="407" rx="13" ry="16" fill="none" stroke="#666"/>
<g fill="none" stroke="#555"><circle cx="593" cy="130" r="8"/><circle cx="593" cy="290" r="8"/><circle cx="567" cy="155" r="7"/><circle cx="567" cy="180" r="7"/><circle cx="567" cy="205" r="7"/><circle cx="567" cy="230" r="7"/><circle cx="567" cy="255" r="7"/><circle cx="617" cy="155" r="7"/><circle cx="617" cy="180" r="7"/><circle cx="617" cy="205" r="7"/><circle cx="617" cy="230" r="7"/><circle cx="617" cy="255" r="7"/><circle cx="652" cy="212" r="10"/><circle cx="652" cy="305" r="10"/></g>
<path class="k" d="M650 172H665V195H650M650 320H665V345H650M532 0V35H545"/>
<path class="g" d="M478 350A28 30 0 0 1 500 322 A28 30 0 0 1 525 350M475 325H530M530 395A20 25 0 0 0 545 420M553 0V40M600 40A30 30 0 0 1 630 10M635 40V65H665"/>
<rect x="535" y="470" width="30" height="35" fill="#fff" stroke="#333"/>
<rect x="595" y="470" width="55" height="42" fill="none" stroke="#333"/><circle cx="612" cy="490" r="7" fill="none" stroke="#333"/><circle cx="634" cy="490" r="7" fill="none" stroke="#333"/>
<path class="k" d="M555 575L625 712M558 575L620 700"/>
<polygon points="585,620 650,560 665,600 630,670" fill="#fff" stroke="#666"/>
<path class="t" d="M580 600L660 550M720 480V600M710 515h8v35h-8zM725 510A20 20 0 0 0 745 480"/>
<!-- vomitory doors -->
<path class="l" d="M592 775L610 745 620 720"/>
<path class="t" d="M585 745A25 30 0 0 0 600 770M612 745A25 30 0 0 1 635 725M650 700L735 755M650 700A35 35 0 0 1 690 680M695 730A30 30 0 0 0 735 745"/>
<!-- south wing -->
<rect x="345" y="860" width="80" height="70" fill="#fff" stroke="#777"/><rect x="357" y="870" width="55" height="50" fill="#fff" stroke="#333"/><path class="k" d="M372 885H410M372 895H410"/>
<rect x="380" y="982" width="60" height="125" fill="url(#hh)"/><rect x="405" y="1020" width="60" height="90" fill="url(#hv)"/>
<path class="g" d="M352 982H440M378 982V1120H440M345 1190H480"/>
<path class="l" d="M475 980H540V1100H478"/>
<path class="g" d="M488 948H515V975H488V948M488 948A28 25 0 0 1 515 975M445 1165A30 35 0 0 1 475 1138V1190"/>
<!-- arc walls -->
<path class="k" d="M595 985L640 1130"/>
<path class="h" d="M595 985L640 1130M685 865L665 885"/>
<path class="k" d="M620 935L660 880M730 910L870 930 940 940"/>
<path class="t" d="M620 935A35 35 0 0 0 650 890M672 850H720V875L680 860M620 925A30 30 0 0 1 625 905M700 870A30 30 0 0 1 725 900M700 820V875M685 820H720M720 880L730 910 780 910M730 910H870M870 925L940 940H1170M975 940V880M1040 940V880M1095 940V880M1170 940V885M910 890H1170M910 775V890M800 755L705 870"/>
<path class="l" d="M795 757H1568M940 760H915L885 880"/>
<!-- meeting tables -->
<g fill="#fff" stroke="#555"><rect x="775" y="760" width="45" height="55"/><rect x="775" y="855" width="45" height="55"/><rect x="760" y="778" width="15" height="18" rx="4"/><rect x="820" y="778" width="15" height="18" rx="4"/><rect x="760" y="872" width="15" height="18" rx="4"/><rect x="820" y="872" width="15" height="18" rx="4"/></g>
<path class="g" d="M797 760V815M797 855V910M783 765h8v8h-8zM783 860h8v8h-8z"/>
<path class="k" d="M912 735L870 910"/>
<rect x="862" y="755" width="40" height="100" transform="rotate(13 880 800)" fill="url(#lk)"/>
<!-- lockers / spa -->
<g fill="#fff" stroke="#555"><rect x="910" y="800" width="55" height="88"/><rect x="985" y="800" width="55" height="88"/><rect x="1040" y="800" width="55" height="88"/><rect x="1095" y="800" width="55" height="88"/></g>
<g fill="#fff" stroke="#aaa"><rect x="925" y="800" width="24" height="65"/><rect x="1000" y="800" width="24" height="65"/><rect x="1058" y="800" width="24" height="65"/><rect x="1110" y="800" width="24" height="65"/></g>
<path class="g" d="M915 760Q930 800 950 760M990 760Q1010 800 1030 760M1045 760Q1060 800 1085 760M1100 760Q1115 800 1135 760"/>
<rect x="965" y="760" width="18" height="88" fill="#fff" stroke="#000" stroke-width="3"/><rect x="1150" y="760" width="18" height="88" fill="#fff" stroke="#000" stroke-width="3"/>
<path class="k" d="M940 765H965M940 775H965M1130 765H1150M1130 775H1150M1170 765H1182M1175 810H1185"/>
<path class="g" d="M1170 920L1155 905 1170 898M1250 815h30v50h-30zM1242 815v20h8M1262 762h17v30h-17zM1245 940h15"/>
<!-- toilets south -->
<path class="k" d="M1280 760V870H1262V1140M1262 995H1400V1010H1425V915L1355 900V830H1425V760M1355 895V870H1262M1298 760V835H1355M1262 870"/>
<path class="d" d="M1268 1140V990M1298 875V930M1355 875V930M1298 835V805M1420 830L1420 760M1265 965H1355"/>
<use href="#toi" x="1312" y="852"/><use href="#toi" x="1338" y="852"/><use href="#toi" x="1282" y="890"/><use href="#toi" x="1308" y="890"/><use href="#toi" x="1368" y="770"/><use href="#toi" x="1390" y="770"/><use href="#toi" x="1370" y="978"/><use href="#toi" x="1392" y="978"/><use href="#toi" x="1412" y="915"/><use href="#toi" x="1412" y="940"/><use href="#toi" x="1302" y="820"/>
<path class="g" d="M1430 762H1568M1430 780H1568M1430 830H1568"/>
<rect x="1430" y="760" width="138" height="20" fill="url(#hv)"/>
<rect x="1460" y="810" width="30" height="20" fill="#ddd" stroke="#333"/><rect x="1530" y="815" width="38" height="20" fill="#fff" stroke="#333"/>
<rect x="1432" y="838" width="70" height="52" fill="url(#hv)"/><rect x="1512" y="838" width="56" height="52" fill="url(#hv)"/>
<path class="k" d="M1470 838H1512V890H1470M1428 890H1512"/>
<path class="w" d="M630 1140H1262"/><path class="g" d="M535 1140H1440M535 1146H1440M540 1140V1190M535 1140V1190M672 1135v12M712 1135v12M765 1135v12M875 1135v12M920 1135v12M1015 1135v12M1070 1135v12M1110 1135v12M1210 1135v12M1280 1135v12M1350 1135v12"/>
<path class="g" d="M348 1190V1225M522 1190V1225M826 1150V1225M1298 1150V1225"/>
<rect x="342" y="1185" width="10" height="12" fill="#ccc" stroke="#444"/><rect x="517" y="1188" width="10" height="12" fill="#ccc" stroke="#444"/><rect x="821" y="1145" width="10" height="12" fill="#ccc" stroke="#444"/><rect x="1293" y="1145" width="10" height="12" fill="#ccc" stroke="#444"/>
<path class="k" d="M1262 1030V1138M1268 1030V1138"/>
<!-- equipment -->
<use href="#sb" x="695" y="1085"/><use href="#sb" x="736" y="1085"/><use href="#sb" x="778" y="1085"/><use href="#sb" x="820" y="1085"/>
<use href="#ell" x="860" y="1075"/><use href="#ell" x="902" y="1075"/><use href="#ell" x="944" y="1075"/><use href="#ell" x="986" y="1075"/><use href="#ell" x="1027" y="1075"/><use href="#ell" x="1068" y="1075"/>
<use href="#trd" x="1122" y="1080"/><use href="#trd" x="1177" y="1080"/><use href="#trd" x="1233" y="1080"/>
<rect x="1295" y="1010" width="300" height="115" rx="30" fill="#fff" stroke="#999" stroke-width="2"/>
<rect x="1280" y="1010" width="300" height="115" rx="30" fill="none" stroke="#ddd" stroke-width="1"/>
<path class="g" d="M1435 1170A25 28 0 0 0 1460 1145H1435V1170M1460 1132H1568M1460 1145H1568"/>
<!-- field -->
<path d="M790 0V692H1568M858 0V692" stroke="#333" stroke-width="1.4" fill="none"/>
<path d="M845 0V513H1568M860 495H1568M860 513V495M845 480H860M1005 495V513M838 525H1568" stroke="#444" stroke-width="1.2" fill="none"/>
<rect x="717" y="0" width="56" height="472" fill="url(#sg)"/>
<path class="c3" d="M1040 38H1538V333H1040ZM1205 38V333M1373 38V333"/>
<path class="d" d="M1290 38V333" stroke-width="1.4"/>
<path d="M1290 0V38M1290 333V365" stroke="#666" stroke-width="1"/>
<path d="M1205 0V38M1205 333V390M1373 0V38M1373 333V390" stroke="#111" stroke-width="2" stroke-dasharray="4 4"/>
<path class="d" d="M1040 545H1205V607H1040ZM1373 545H1538V607H1373Z"/>
<path class="g" d="M806 25H845V95H806ZM806 185H845V262H806ZM825 118h20v50h-20z"/>
<circle cx="825" cy="62" r="9" class="g"/><circle cx="832" cy="143" r="9" class="g"/><circle cx="825" cy="225" r="9" class="g"/>
<rect x="1040" y="520" width="498" height="14" fill="url(#hl)"/>
<rect x="918" y="632" width="28" height="32" fill="none" stroke="#333"/>
<rect x="1018" y="635" width="42" height="25" fill="none" stroke="#555"/><circle cx="1030" cy="660" r="6" fill="none" stroke="#555"/><circle cx="1046" cy="660" r="6" fill="none" stroke="#555"/>
<rect x="1170" y="615" width="58" height="50" fill="none" stroke="#555"/><circle cx="1190" cy="650" r="6" fill="none" stroke="#555"/><circle cx="1208" cy="650" r="6" fill="none" stroke="#555"/>
<rect x="1305" y="615" width="62" height="50" fill="none" stroke="#555"/><circle cx="1328" cy="650" r="6" fill="none" stroke="#555"/><circle cx="1346" cy="650" r="6" fill="none" stroke="#555"/>
<circle cx="1138" cy="655" r="6" fill="none" stroke="#555"/><circle cx="1153" cy="655" r="6" fill="none" stroke="#555"/><circle cx="1424" cy="655" r="6" fill="none" stroke="#555"/><circle cx="1440" cy="655" r="6" fill="none" stroke="#555"/>
<path class="g" d="M978 692Q990 690 993 675 996 690 1010 692M1200 692Q1212 690 1215 675 1218 690 1232 692M1347 692Q1360 690 1363 675 1366 690 1380 692"/>
<circle cx="1012" cy="506" r="6" class="g"/><circle cx="1230" cy="506" r="6" class="g"/><circle cx="1348" cy="506" r="6" class="g"/><circle cx="1562" cy="506" r="6" class="g"/>
<rect x="1248" y="500" width="82" height="26" fill="none" stroke="#666"/>
<path d="M1530 1225V1292" stroke="#111" stroke-width="1.5" stroke-dasharray="4 3"/>
</g>

<!-- Z5 NE -->
<g transform="translate(2700,300) scale(.8292,.7015)">
<path class="t" d="M668 10L1420 458M0 180L1030 950 1060 960M0 333H205Q225 345 225 390M190 540H440Q520 545 555 590L505 700 950 1085 1010 980M118 440L190 540M650 740L505 700M700 775L660 850 735 910M790 780L720 900 790 960M850 830L775 945 840 1005M905 870L835 980 905 1040M965 905L905 1040M1015 975A40 40 0 0 1 1060 950"/>
<path class="bd" d="M5 240L1420 1275"/>
<path class="ld" d="M15 365L1010 1240 1035 1265V1568M70 560L500 815M630 1000L690 1100M880 1145L1040 1260M1100 1160"/>
<path class="v" d="M0 600H180Q340 620 480 760 620 900 660 1130"/>
<path d="M1118 1055V1568" stroke="#555" stroke-width="1.5" stroke-dasharray="90 5" fill="none"/>
<path class="l" d="M0 378H115V540H0M0 385H110V535H0"/>
<path d="M118 392V540" stroke="#777" stroke-width="6"/>
<path class="g" d="M0 478L112 463 0 450"/>
<rect x="0" y="565" width="45" height="85" fill="url(#hv)"/>
<circle cx="110" cy="463" r="4" fill="#777"/>
<!-- east entry -->
<path class="t" d="M260 693L295 628 395 700 355 765"/>
<path class="t" d="M280 693L305 650 375 705 345 755"/>
<path class="w" d="M205 665L445 855M0 655H190"/>
<path class="l" d="M212 660L450 848 490 950 495 975"/>
<path class="h" d="M162 810L352 945"/>
<path class="k" d="M0 810H162M162 670V810"/>
<polygon points="445,770 485,800 450,855 418,815" fill="url(#st)" stroke="#ccc" stroke-width="2"/>
<polygon points="580,868 615,905 580,945 548,905" fill="url(#st)" stroke="#ccc" stroke-width="2"/>
<path class="t" d="M470 810L550 870M465 835L545 895M460 855L540 915M450 878L530 935M355 945L425 880M335 920A45 50 0 0 1 385 880M385 845A40 40 0 0 1 420 880M440 875A35 40 0 0 1 475 900M475 920A35 35 0 0 0 510 955"/>
<path d="M520 840L545 912" stroke="#111" stroke-width="2" stroke-dasharray="3 5"/>
<!-- NE rooms -->
<path class="g" d="M113 670H160V810H113ZM113 670V780M135 700h25v95h-25zM115 780A25 25 0 0 1 140 810"/>
<rect x="0" y="660" width="45" height="20" fill="none" stroke="#888"/>
<path class="k" d="M0 655H110M108 655V808H60M0 878H135M130 880L95 1035M60 880V990M20 1018H90M150 905L310 985 270 1030"/>
<path class="g" d="M60 690V800M60 940V1000M80 905L100 1000M180 930L270 975 215 1030M115 960L155 990 125 1035M60 1000V1040"/>
<use href="#toi" x="7" y="690"/><use href="#toi" x="25" y="690"/><use href="#toi" x="10" y="795"/><use href="#toi" x="38" y="795"/><use href="#toi" x="98" y="705"/><use href="#toi" x="98" y="770"/><use href="#toi" x="10" y="915"/><use href="#toi" x="35" y="915"/><use href="#toi" x="12" y="1010"/><use href="#toi" x="37" y="1010"/><use href="#toi" x="95" y="930"/><use href="#toi" x="100" y="975"/><use href="#toi" x="200" y="1025"/><use href="#toi" x="232" y="1025"/><use href="#toi" x="195" y="925"/>
<path class="g" d="M195 880A30 30 0 0 1 235 865M195 880L210 920M240 950V995M225 990L262 950"/>
<path class="t" d="M275 1020L335 1100M280 1045A30 30 0 0 1 320 1020M310 1080A30 30 0 0 1 355 1075"/>
<path class="l" d="M290 1190L340 1155 475 1270"/>
<!-- room cluster -->
<path class="k" d="M418 1050L530 960 M418 1050L510 1240M640 1165L525 1262M530 960L640 1165"/>
<path class="w" d="M418 1052L508 1240M495 985L530 960 635 1165 530 1260 M520 1262L610 1190"/>
<path class="g" d="M430 1050L460 1105 M480 1075L540 1030 580 1085 525 1125ZM500 1105V1030M530 1035L545 1075M500 1170H510V1135M490 1170A30 30 0 0 1 510 1210M580 1110h38v25h-38zM470 1140L480 1165"/>
<use href="#toi" x="535" y="1055"/><use href="#toi" x="555" y="1085"/><use href="#toi" x="490" y="1075"/>
<rect x="525" y="1240" width="85" height="25" transform="rotate(-37 525 1240)" fill="url(#lk)"/>
<rect x="510" y="1090" width="12" height="8" fill="#000"/>
<path class="g" d="M605 1180H640M620 1180V1240H660M620 1205A25 25 0 0 1 650 1230"/>
<use href="#toi" x="632" y="1190"/>
<!-- west-of-lift rooms -->
<path class="k" d="M345 1330H660"/>
<path class="w" d="M340 1135L460 1275"/>
<path class="g" d="M345 1155V1330M345 1220H360V1270H345M345 1285L375 1330M345 1170L420 1240M395 1145L440 1205M370 1165L430 1250M365 1185L415 1160M415 1200L450 1270M480 1240A25 25 0 0 0 510 1270M525 1295H585V1325H525ZM588 1280H625V1325H588ZM625 1280H655V1325H625"/>
<path class="d" d="M290 1190V1320"/>
<rect x="288" y="1250" width="12" height="35" fill="#fff" stroke="#555"/>
<rect x="430" y="1290" width="35" height="40" fill="none" stroke="#555"/><rect x="463" y="1290" width="18" height="40" fill="#fff" stroke="#333"/>
<use href="#toi" x="388" y="1320"/><use href="#toi" x="410" y="1320"/><use href="#toi" x="544" y="1318"/><use href="#toi" x="566" y="1318"/>
<path class="t" d="M265 1320A30 25 0 0 1 290 1295V1318"/>
<!-- arch stair -->
<path d="M665 1135V1128A65 72 0 0 1 795 1128V1135" fill="none" stroke="#000" stroke-width="12"/>
<path d="M665 1135V1128A65 72 0 0 1 795 1128V1135" fill="none" stroke="#888" stroke-width="5"/>
<path class="l" d="M660 1130V1330M800 1130V1225M665 1330H740V1365"/>
<rect x="672" y="1140" width="58" height="100" fill="url(#hh)"/><rect x="735" y="1135" width="50" height="100" fill="url(#hh)"/>
<path class="g" d="M733 1135V1260M672 1245H785M665 1240H785"/>
<path d="M790 1330V1227H860V1330" fill="none" stroke="#000" stroke-width="6"/><path d="M797 1330V1234H855V1330" fill="none" stroke="#888" stroke-width="4"/>
<rect x="808" y="1255" width="35" height="55" fill="#fff" stroke="#444"/><path class="k" d="M810 1262H840M810 1268H840"/>
<path d="M660 1475V1373H738V1475" fill="none" stroke="#000" stroke-width="6"/><path d="M668 1475V1381H730V1475" fill="none" stroke="#888" stroke-width="5"/>
<rect x="680" y="1400" width="40" height="60" fill="#fff" stroke="#444"/><path class="k" d="M682 1410H718M682 1418H718"/>
<path class="g" d="M738 1330H862V1500M740 1345A25 25 0 0 0 765 1355 25 25 0 0 0 785 1330M752 1390V1425H772V1395H752ZM808 1375H860M808 1375V1480M808 1395h7v30h-7zM860 1380H888V1410H860ZM862 1410L888 1440H860V1410M810 1470H860M810 1505H835V1478M810 1500A25 25 0 0 0 835 1480"/>
<rect x="755" y="1395" width="15" height="28" fill="#fff" stroke="#555"/><circle cx="748" cy="1410" r="8" fill="none" stroke="#555"/>
<path class="g" d="M865 1240H935L975 1568M865 1250H925L965 1568M865 1260H915L955 1568M865 1272H905L945 1568M865 1285H895L935 1568M950 1330L975 1568M865 1298H888L925 1568M915 1400L912 1568"/>
<path d="M480 1470H660M738 1470H800" stroke="#555" stroke-width="2"/>
<path class="g" d="M540 1470Q565 1460 590 1470M565 1458V1480M660 1475V1568M345 1470"/>
<!-- west seats edges -->
<path class="l" d="M345 1340V1568M338 1340V1568"/>
<rect x="340" y="1455" width="20" height="22" fill="#fff" stroke="#000" stroke-width="3"/>
<rect x="660" y="1530" width="12" height="28" fill="none" stroke="#999"/>
<path d="M0 1250H220V1568M0 1300H152V1568M162 1300V1568" stroke="#333" stroke-width="1.4" fill="none"/>
<rect x="237" y="1325" width="55" height="243" fill="url(#sg)"/>
<path class="g" d="M170 1450H205V1525H170ZM152 1285H162V1315H152ZM0 1280H150"/>
</g>

<!-- Z6 SE -->
<g transform="translate(2700,1400) scale(.8292,.6378)">
<path d="M1118 0V1328" stroke="#555" stroke-width="1.5" stroke-dasharray="90 5" fill="none"/>
<path class="ld" d="M1035 0V960M875 0V870H812M110 1150H1090"/>
<path d="M0 1330H820M820 1330H1118" stroke="#444" stroke-width="1.2" stroke-dasharray="60 5" fill="none"/>
<path d="M1118 1328H1420" stroke="#222" stroke-width="1.5"/>
<path class="t" d="M395 1330Q395 1385 430 1385H1120M60 1190V1325H395V1190ZM0 1385H775"/>
<path class="l" d="M30 1190V1275M30 1185H420V1330M60 1325H395"/>
<!-- field -->
<path d="M0 390H152V0M162 0V390H220M220 0V605H0M152 390V605" stroke="#333" stroke-width="1.4" fill="none"/>
<path class="g" d="M0 407H150V390M152 372h12v18h-12zM170 50H205V130H170Z"/>
<circle cx="185" cy="18" r="8" class="g"/><circle cx="188" cy="90" r="9" class="g"/>
<rect x="237" y="0" width="55" height="360" fill="url(#sg)"/>
<rect x="62" y="540" width="30" height="34" fill="none" stroke="#333"/>
<!-- SE rooms -->
<path class="l" d="M340 0V530M345 0V530M360 205H470M350 212H462V320H478"/>
<path class="d" d="M478 0V200M345 525H405L440 490M345 520L390 575"/>
<path d="M345 195H360V225H345M345 30H360V60H345M345 352H365V395H345V352" fill="#fff" stroke="#000" stroke-width="3"/>
<g fill="#999" stroke="#222"><ellipse cx="352" cy="260" rx="6" ry="22"/><ellipse cx="352" cy="310" rx="6" ry="22"/><ellipse cx="352" cy="420" rx="6" ry="22"/><ellipse cx="352" cy="472" rx="6" ry="22"/></g>
<rect x="388" y="270" width="50" height="22" fill="none" stroke="#333"/><path class="g" d="M412 240V290"/><circle cx="412" cy="248" r="6" class="g"/>
<path d="M413 380L395 435" stroke="#666" stroke-width="4" stroke-dasharray="3 2"/>
<path class="g" d="M478 345h22v55h-22zM465 345V375"/>
<rect x="620" y="65" width="80" height="30" fill="none" stroke="#555"/>
<path class="g" d="M660 0V60M640 35H680M660 95V190M470 280H640M595 330V320M590 320H640"/>
<path class="t" d="M290 500L290 370 300 370M265 372A28 28 0 0 0 290 402M275 425H290V445H275"/>
<rect x="288" y="410" width="12" height="35" fill="#fff" stroke="#555"/>
<path class="g" d="M470 430L415 540 425 560M340 590L305 625 285 660M305 625A40 45 0 0 0 362 640"/>
<path class="l" d="M410 530L395 590M360 580L275 660"/>
<!-- east lobby -->
<path class="w" d="M470 0V190M478 210H640"/>
<path class="g" d="M660 0V190M812 0V150M812 150H860V0M812 185A25 25 0 0 0 838 160H812V185M855 130V60"/>
<path class="d" d="M810 150V860M660 222H795"/>
<path class="l" d="M802 225V850M815 225V850"/>
<path class="g" d="M812 260H838V325H812M812 262A20 30 0 0 1 838 292 20 30 0 0 1 812 325"/>
<path d="M580 325H810M580 325V860M595 320V340" stroke="#888" stroke-width="1" stroke-dasharray="20 5" fill="none"/>
<path class="g" d="M660 490L628 575V685M580 685H628"/>
<rect x="635" y="612" width="48" height="180" fill="url(#hh)"/><rect x="582" y="685" width="50" height="100" fill="url(#hv)"/>
<path class="g" d="M600 760L625 790H660V815H605V760M580 845H655"/>
<rect x="690" y="435" width="90" height="415" fill="#fff" stroke="#888"/>
<rect x="698" y="465" width="30" height="355" fill="url(#hh)"/><rect x="742" y="465" width="30" height="355" fill="url(#hh)"/>
<path class="g" d="M698 465H728V820H698ZM742 465H772V820H742ZM735 435V850M690 645H780M700 790H770"/>
<path class="k" d="M718 595V612M752 595V612"/>
<path class="l" d="M420 868H580M528 870V1100M340 870V1100M685 872H810"/>
<path class="d" d="M420 865H660M675 875V1090M670 875H810"/>
<path class="g" d="M690 870V880M675 1095H810M808 880V1100M672 1190V1100"/>
<path d="M815 872V1180" stroke="#aaa" stroke-width="1" fill="none"/>
<path class="g" d="M677 1045A25 30 0 0 0 700 1018H677V1045"/>
<!-- stairs SE -->
<rect x="158" y="935" width="170" height="45" fill="url(#hv)" transform="rotate(-38 160 930) translate(45 38)" opacity=".8"/>
<rect x="158" y="935" width="170" height="50" fill="url(#hv)" transform="rotate(-38 160 930) translate(45 -20)" opacity=".8"/>
<path d="M345 785L160 928" stroke="#000" stroke-width="11"/><path d="M340 790L165 925" stroke="#666" stroke-width="4"/>
<path d="M360 962L195 1092" stroke="#000" stroke-width="11"/><path d="M355 966L200 1088" stroke="#666" stroke-width="4"/>
<path class="g" d="M160 935L205 1095M345 795L415 905 365 960M195 940L240 1025 320 965M330 810A30 30 0 0 0 360 835M365 955A30 30 0 0 0 395 985M390 858H420V905"/>
<path class="l" d="M345 790L390 860H420"/>
<rect x="135" y="1045" width="55" height="55" fill="none" stroke="#888"/>
<path class="g" d="M135 1060H190"/>
<!-- south lift -->
<path class="k" d="M0 755H90M110 790H120M0 830V1100"/>
<path class="d" d="M45 680V750H125M120 675L135 755H185M120 760 110 815Q100 860 130 855"/>
<path class="k" d="M45 755Q95 760 110 820L112 858H130"/>
<path class="l" d="M115 680L135 755M45 680H195V690"/>
<path class="g" d="M0 680H45M45 705H105M45 712H105"/>
<rect x="0" y="675" width="45" height="60" fill="none" stroke="#888"/>
<rect x="200" y="675" width="50" height="80" fill="#fff" stroke="#888"/><ellipse cx="235" cy="730" rx="20" ry="25" fill="none" stroke="#555"/><use href="#toi" x="212" y="700"/>
<path class="g" d="M160 755V790A25 25 0 0 0 185 760M225 760V790A25 25 0 0 0 250 760M115 810A25 30 0 0 1 142 790V760"/>
<rect x="25" y="893" width="20" height="98" fill="#333" stroke="#000" stroke-width="3"/><rect x="112" y="893" width="14" height="98" fill="#444" stroke="#000" stroke-width="3"/>
<rect x="55" y="915" width="50" height="52" fill="#fff" stroke="#333"/><path class="k" d="M65 925H95M65 935H95M65 945H95"/>
<path class="d" d="M25 893H125M25 991H125"/>
<rect x="65" y="995" width="22" height="85" fill="url(#sg)"/>
<path class="g" d="M0 1040Q10 1060 45 1030M0 1060H25M85 1090A30 30 0 0 0 55 1060M30 1030H60"/>
<circle cx="52" cy="1017" r="8" class="g"/>
<path class="w" d="M0 1100H120M225 1100H420 M445 1105H670"/>
<path class="g" d="M0 1095H190M215 1095H670M270 1098H330V1105H270ZM145 1100A28 35 0 0 0 175 1135M175 1135A28 35 0 0 0 200 1105M230 1100A28 35 0 0 0 255 1135M345 1105A28 35 0 0 0 372 1135M372 1135A28 35 0 0 0 395 1105M475 1138A25 30 0 0 0 500 1110H475V1138M203 1100V1190"/>
<rect x="198" y="1098" width="12" height="14" fill="#ccc" stroke="#444"/>
<!-- bottom stairs -->
<path class="g" d="M0 1205H30M0 1215H30M0 1225H30M0 1235H30M0 1245H30M0 1255H30M0 1265H30"/>
<path class="g" d="M420 1200H440V1290H420M420 1220H555M420 1250H555M420 1283H555"/>
<path d="M487 1185V1285M438 1185V1285" stroke="#111" stroke-width="1.5" fill="none"/>
<path d="M562 1305L670 1188H945M640 1220H950M620 1240H950M605 1258H950M590 1275H950M575 1290H950M562 1305H950" class="g"/>
<path d="M950 1185V1325" stroke="#111" stroke-width="1.5"/>
<path class="g" d="M960 1190H1005V1130M960 1205H1015V1130M960 1220H1025V1135M960 1235H1035V1135M960 1250H1045V1125M960 1265H1055V1130M960 1280H1060V1100M960 1295H1068V1100M960 1310H1076V1005M960 1325H1086V1010"/>
<path class="d" d="M1030 900L1058 1010 1085 1325M1050 900L1085 1200M970 1325V1330"/>
<!-- ramp -->
<path class="l" d="M930 330H1008L1035 895H958ZM937 335H1003L1028 890H962Z"/>
<path class="g" d="M945 340L1005 860M965 340L1000 800M955 640H1015M950 775L1000 800M1008 330L1030 890 1085 1320"/>
<rect x="925" y="266" width="85" height="12" fill="#fff" stroke="#ccc" stroke-width="2"/>
<path class="g" d="M915 0L935 262M925 0L945 262M935 0L952 262M945 0L962 262M955 0L970 262M965 0L980 262M975 0L988 262M985 0L997 262M915 150H1000"/>
<ellipse cx="983" cy="860" rx="22" ry="22" fill="none" stroke="#777"/><rect x="975" y="848" width="16" height="28" fill="none" stroke="#555"/>
<path class="g" d="M962 900L962 1000M985 985H1005V1025M1005 900L1010 1030"/>
<path d="M808 960H1088V1150M808 960V1180" stroke="#aaa" stroke-width="1" stroke-dasharray="18 5" fill="none"/>
<path d="M990 1030V1150" stroke="#777" stroke-width="1"/>
<path d="M832 20V0M860 0V60" class="k"/>
</g>

<!-- Real coord: seating -->
<g>
<g id="seatL">
<g fill="url(#se)"><rect x="2159" y="1033" width="35" height="12"/><rect x="2159" y="1051" width="35" height="12"/><rect x="2159" y="1069" width="35" height="12"/><rect x="2169" y="1088" width="25" height="12"/><rect x="2169" y="1105" width="25" height="12"/></g>
<g stroke="#a0a0a0" stroke-width="13" stroke-dasharray="14 1.5" fill="none"><path d="M2076 1081L2150 1040"/><path d="M2084 1102L2156 1060"/><path d="M2095 1119L2155 1083"/><path d="M2105 1135L2167 1105"/><path d="M2118 1153L2167 1126"/></g>
<path d="M2194 1033H2244M2194 1045H2244M2194 1051H2244M2194 1063H2244M2194 1069H2244M2194 1081H2244M2194 1088H2244M2194 1100H2244M2194 1105H2244M2194 1117H2244M2194 1124H2244M2194 1136H2244M2194 1143H2244M2194 1155H2244" stroke="#111" stroke-width="1.2" fill="none"/>
<path d="M2068 1075L2130 1164H2468" stroke="#ccc" stroke-width="2" fill="none"/>
</g>
<use href="#seatL" transform="translate(4937 0) scale(-1 1)"/>
<g fill="url(#sr)"><rect x="2244" y="1033" width="450" height="12"/><rect x="2244" y="1051" width="450" height="12"/><rect x="2244" y="1069" width="450" height="12"/><rect x="2244" y="1088" width="450" height="12"/><rect x="2244" y="1105" width="450" height="12"/><rect x="2244" y="1124" width="450" height="12"/><rect x="2244" y="1143" width="450" height="12"/></g>
</g>

<!-- Vomitory bars -->
<g fill="none">
<path d="M1989 992L2059 1074M1914 1065L1997 1135M1997 1724L1918 1797M2059 1788L1989 1868M2949 991L2878 1075M3022 1065L2942 1135M2940 1725L3019 1797M2882 1786L2950 1869" stroke="#000" stroke-width="15"/>
<path d="M1989 992L2059 1074M1914 1065L1997 1135M1997 1724L1918 1797M2059 1788L1989 1868M2949 991L2878 1075M3022 1065L2942 1135M2940 1725L3019 1797M2882 1786L2950 1869" stroke="#888" stroke-width="8"/>
</g>

<!-- Columns -->
<g>
<use href="#col" transform="translate(2076 771) rotate(30)"/><use href="#col" x="2208" y="767"/><use href="#col" x="2362" y="767"/><use href="#col" x="2573" y="767"/><use href="#col" transform="translate(1899 874) rotate(30)"/><use href="#col" transform="translate(1798 977) rotate(30)"/><use href="#col" transform="translate(1692 1153) rotate(20)"/><use href="#col" transform="translate(2119 926) rotate(20)"/><use href="#col" x="2208" y="924"/><use href="#col" x="2362" y="924"/><use href="#col" x="2573" y="924"/><use href="#col" transform="translate(1849 1196) rotate(20)"/><use href="#col" transform="translate(1969 1230) rotate(20)"/><use href="#col" x="1689" y="1327"/><use href="#col" x="1848" y="1327"/><use href="#col" x="1971" y="1327"/><use href="#col" x="1848" y="1534"/><use href="#col" x="1971" y="1534"/><use href="#col" x="1689" y="1534"/><use href="#col" transform="translate(1690 1707) rotate(-10)"/><use href="#col" transform="translate(1970 1630) rotate(-20)"/><use href="#col" transform="translate(1848 1665) rotate(-20)"/><use href="#col" transform="translate(1798 1882) rotate(-20)"/><use href="#col" transform="translate(1900 1986) rotate(30)"/><use href="#col" x="1943" y="2094"/><use href="#col" transform="translate(2076 2091) rotate(15)"/><use href="#col" x="2208" y="2094"/><use href="#col" x="2362" y="2094"/><use href="#col" x="2574" y="2094"/><use href="#col" x="2208" y="1978"/><use href="#col" x="2362" y="1978"/><use href="#col" transform="translate(2120 1935) rotate(15)"/><use href="#col" transform="translate(2153 1813) rotate(15)"/><use href="#col" x="2208" y="1813"/><use href="#col" x="2362" y="1813"/><use href="#col" x="2574" y="1813"/><use href="#col" x="2574" y="1978"/>
<use href="#col" x="2729" y="766"/><use href="#col" transform="translate(2861 769) rotate(-20)"/><use href="#col" transform="translate(3036 875) rotate(40)"/><use href="#col" x="2729" y="924"/><use href="#col" transform="translate(2818 926) rotate(-20)"/><use href="#col" transform="translate(3139 977) rotate(40)"/><use href="#col" transform="translate(3247 1152) rotate(-40)"/><use href="#col" transform="translate(3086 1196) rotate(-20)"/><use href="#col" transform="translate(2965 1231) rotate(-20)"/><use href="#col" x="2965" y="1327"/><use href="#col" x="3090" y="1327"/><use href="#col" x="3247" y="1327"/><use href="#col" x="3361" y="1327"/>
<use href="#col" x="2965" y="1534"/><use href="#col" x="3090" y="1534"/><use href="#col" x="3247" y="1534"/><use href="#col" x="3361" y="1534"/><use href="#col" transform="translate(2967 1631) rotate(20)"/><use href="#col" transform="translate(3088 1665) rotate(20)"/><use href="#col" transform="translate(3246 1708) rotate(15)"/><use href="#col" x="3361" y="1746"/><use href="#col" x="2729" y="1811"/><use href="#col" transform="translate(2783 1815) rotate(-15)"/><use href="#col" transform="translate(3139 1883) rotate(40)"/><use href="#col" transform="translate(2818 1933) rotate(20)"/><use href="#col" x="2729" y="1977"/><use href="#col" x="3247" y="1947"/><use href="#col" x="3262" y="1947"/><use href="#col" x="3361" y="1947"/><use href="#col" transform="translate(3036 1985) rotate(30)"/><use href="#col" x="3247" y="2094"/><use href="#col" x="3361" y="2094"/><use href="#col" x="3040" y="2094"/><use href="#col" transform="translate(2862 2091) rotate(-15)"/><use href="#col" x="2729" y="2094"/><use href="#col" x="3523" y="2065"/><use href="#col" x="3523" y="2103"/>
</g>

<!-- Trees -->
<use href="#tree" x="477" y="1224"/><use href="#tree" transform="translate(423 1262) scale(.65)"/><use href="#tree" transform="translate(469 1290) scale(.68)"/><use href="#tree" x="415" y="1324"/><use href="#tree" x="1394" y="880"/><use href="#tree" x="1442" y="853"/><use href="#tree" x="1903" y="676"/><use href="#tree" x="2538" y="437"/><use href="#tree" transform="translate(3087 733) scale(.68)"/><use href="#tree" x="3579" y="1050"/><use href="#tree" x="701" y="2031"/><use href="#tree" x="751" y="2161"/>

<!-- Section line -->
<path d="M212 1677L220 1700 672 1548H1040V1430H3815V1373M3852 1400V1416" fill="none" stroke="#666" stroke-width="4" stroke-dasharray="22 9"/>
<text x="219" y="1683" font-size="50" style="fill:#666">1</text>
<text x="3845" y="1423" font-size="50" style="fill:#666">1</text>

<!-- north arrow -->
<circle cx="3786" cy="398" r="41" fill="#fff" stroke="#333" stroke-width="1.3"/>
<polygon points="3764,368 3824,414 3796,416 3790,438" fill="#aaa" stroke="#333" stroke-width="1"/>

<!-- Triangles -->
<g class="tri">
<polygon points="1040,1082 1060,1082 1050,1095"/>
<polygon points="842,1808 842,1836 860,1822"/>
<polygon points="570,1925 592,1925 581,1908"/>
<polygon points="866,2072 866,2096 882,2090"/>
<polygon points="1036,2172 1060,2172 1048,2157"/>
<polygon points="2096,726 2122,726 2109,740"/>
<polygon points="2487,795 2512,795 2499,810"/>
<polygon points="1830,940 1852,940 1852,920"/>
<polygon points="1708,1052 1725,1052 1727,1030"/>
<polygon points="1698,2150 1724,2150 1711,2167"/>
<polygon points="1879,2125 1905,2125 1892,2142"/>
<polygon points="2643,2140 2669,2140 2656,2125"/>
<polygon points="2867,617 2867,640 2880,628"/>
<polygon points="3100,918 3122,944 3100,938"/>
<polygon points="3448,1279 3448,1303 3436,1291"/>
<polygon points="3427,1337 3427,1360 3440,1348"/>
<polygon points="3466,1415 3466,1437 3455,1426"/>
<polygon points="3427,1498 3427,1520 3438,1509"/>
<polygon points="3414,1578 3414,1600 3426,1589"/>
<polygon points="3413,2074 3435,2074 3424,2061"/>
</g>

<!-- Elevation markers -->
<g>
<use href="#mk" x="322" y="1245"/><use href="#mk" x="224" y="1289"/><use href="#mk" x="878" y="1161"/><use href="#mk" x="991" y="1122"/><use href="#mk" x="486" y="1596"/><use href="#mk" x="589" y="1901"/><use href="#mk" x="773" y="2033"/><use href="#mk" x="684" y="2077"/><use href="#mk" x="627" y="2140"/><use href="#mk" x="477" y="2176"/><use href="#mk" x="801" y="2178"/><use href="#mk" x="759" y="2325"/><use href="#mk" x="995" y="2322"/><use href="#mk" x="2568" y="401"/><use href="#mk" x="2557" y="482"/><use href="#mk" x="2072" y="758"/><use href="#mk" x="1684" y="1123"/><use href="#mk" x="1682" y="2324"/><use href="#mk" x="1848" y="2133"/><use href="#mk" x="2793" y="625"/><use href="#mk" x="2863" y="759"/><use href="#mk" x="3411" y="645"/><use href="#mk" x="3295" y="813"/><use href="#mk" x="3261" y="873"/><use href="#mk" x="3720" y="806"/><use href="#mk" x="3575" y="993"/><use href="#mk" x="3508" y="1033"/><use href="#mk" x="3367" y="1136"/><use href="#mk" x="3370" y="1957"/><use href="#mk" x="3257" y="2101"/><use href="#mk" x="3579" y="2179"/><use href="#mk" x="3654" y="2247"/><use href="#mk" x="3662" y="2328"/>
<path d="M322 1245H374M224 1289H276M878 1161H932M486 1596H538M589 1901H640M684 2077H738M627 2140H574M477 2176H425M801 2178H855M759 2325H812M995 2322H1048M2568 401H2618M2557 482H2606M2793 625H2845M2863 759H2916M3411 645H3464M3295 813H3348M3261 873H3208M3720 806H3772M3575 993H3628M3508 1033H3456M1682 2324H1734M3579 2179H3625M3654 2247H3700" stroke="#777" stroke-width="1" fill="none"/>
</g>

<!-- Rule -->
<path d="M158 2346H3840" stroke="#333" stroke-width="1.4"/>
<rect x="158" y="2314" width="5" height="31" fill="#000"/>

<!-- Texts -->
<g>
<text transform="translate(611 577) rotate(-38)" font-size="20" font-weight="bold" textLength="108" lengthAdjust="spacingAndGlyphs" style="fill:#111">EĞİTİM ALANI</text>
<text transform="translate(889 1030) rotate(-24.5)" class="b" textLength="95" lengthAdjust="spacingAndGlyphs">ARSA SINIRI</text>
<text transform="translate(914 1095) rotate(-22.7)" class="b" textLength="202" lengthAdjust="spacingAndGlyphs">BODRUM YAKLAŞMA SINIRI</text>
<text transform="translate(930 1133) rotate(-21.7)" class="b" textLength="170" lengthAdjust="spacingAndGlyphs">YAPI YAKLAŞMA SINIRI</text>
<text x="1016" y="1082" class="s" textLength="66" lengthAdjust="spacingAndGlyphs">SERVİS GİRİŞİ</text>
<text x="334" y="1240" class="e" textLength="42" lengthAdjust="spacingAndGlyphs">104.37</text>
<text x="237" y="1286" class="e" textLength="42" lengthAdjust="spacingAndGlyphs">104.38</text>
<text x="890" y="1156" class="e" textLength="42" lengthAdjust="spacingAndGlyphs">103.38</text>
<text x="1002" y="1117" class="e" textLength="42" lengthAdjust="spacingAndGlyphs">103.27</text>
<text x="495" y="1591" class="e" textLength="42" lengthAdjust="spacingAndGlyphs">103.80</text>
<text transform="translate(840 1772) rotate(-90)" class="s" textLength="77" lengthAdjust="spacingAndGlyphs">AYEDAŞ KÖŞKÜ</text>
<text x="763" y="1824" class="s" textLength="69" lengthAdjust="spacingAndGlyphs">TRİBÜN GİRİŞİ</text>
<text x="600" y="1897" class="e" textLength="42" lengthAdjust="spacingAndGlyphs">103.40</text>
<text x="529" y="1942" class="s" textLength="80" lengthAdjust="spacingAndGlyphs">OTOPARK GİRİŞİ</text>
<text x="785" y="2028" class="e" textLength="42" lengthAdjust="spacingAndGlyphs">102.59</text>
<text x="695" y="2073" class="e" textLength="42" lengthAdjust="spacingAndGlyphs">103.02</text>
<text x="795" y="2080" class="s" textLength="62" lengthAdjust="spacingAndGlyphs">KONAKLAMA</text>
<text x="797" y="2096" class="s" textLength="30" lengthAdjust="spacingAndGlyphs">GİRİŞİ</text>
<text x="574" y="2133" class="e" textLength="42" lengthAdjust="spacingAndGlyphs">103.12</text>
<text x="425" y="2173" class="e" textLength="42" lengthAdjust="spacingAndGlyphs">103.00</text>
<text x="811" y="2175" class="e" textLength="42" lengthAdjust="spacingAndGlyphs">102.70</text>
<text x="1048" y="2151" class="b" textLength="167" lengthAdjust="spacingAndGlyphs">YAPI YAKLAŞMA SINIRI</text>
<text x="1012" y="2190" class="s" textLength="67" lengthAdjust="spacingAndGlyphs">SERVİS GİRİŞİ</text>
<text x="1052" y="2199" class="b" textLength="200" lengthAdjust="spacingAndGlyphs">BODRUM YAKLAŞMA SINIRI</text>
<text x="1054" y="2269" class="b" textLength="90" lengthAdjust="spacingAndGlyphs">ARSA SINIRI</text>
<text x="165" y="2345" font-size="45" textLength="568" lengthAdjust="spacingAndGlyphs" style="fill:#111">ZEMİN KAT (+0.60 KOTU) PLANI</text>
<text x="770" y="2323" class="e" textLength="42" lengthAdjust="spacingAndGlyphs">102.33</text>
<text x="1006" y="2318" class="e" textLength="42" lengthAdjust="spacingAndGlyphs">102.13</text>
<text x="2577" y="400" class="e" textLength="42" lengthAdjust="spacingAndGlyphs">102.13</text>
<text x="2567" y="477" class="e" textLength="42" lengthAdjust="spacingAndGlyphs">102.10</text>
<text x="2077" y="722" class="s" textLength="62" lengthAdjust="spacingAndGlyphs">BASIN GİRİŞİ</text>
<text x="2086" y="757" class="e" textLength="42" lengthAdjust="spacingAndGlyphs">102.59</text>
<text x="2451" y="746" class="s" textLength="95" lengthAdjust="spacingAndGlyphs">RAKİP TAKIM GİRİŞİ</text>
<text x="1798" y="917" class="s" textLength="68" lengthAdjust="spacingAndGlyphs">SERVİS GİRİŞİ</text>
<text x="1644" y="1014" class="s" textLength="63" lengthAdjust="spacingAndGlyphs">TAKIM GİRİŞİ</text>
<text x="1694" y="1118" class="e" textLength="42" lengthAdjust="spacingAndGlyphs">102.88</text>
<text transform="translate(1808 1130) rotate(-68)" font-size="10" textLength="75" lengthAdjust="spacingAndGlyphs">EN 16005-E UYUMLU</text>
<text transform="translate(1821 1120) rotate(-68)" font-size="10" textLength="45" lengthAdjust="spacingAndGlyphs">KAYAR KAPI</text>
<text x="1674" y="2178" class="s" textLength="73" lengthAdjust="spacingAndGlyphs">YANGIN KAÇIŞI</text>
<text x="1858" y="2128" class="e" textLength="42" lengthAdjust="spacingAndGlyphs">101.62</text>
<text x="1854" y="2151" class="s" textLength="73" lengthAdjust="spacingAndGlyphs">YANGIN KAÇIŞI</text>
<text x="1694" y="2318" class="e" textLength="42" lengthAdjust="spacingAndGlyphs">101.32</text>
<text x="2619" y="2150" class="s" textLength="96" lengthAdjust="spacingAndGlyphs">VIP / CIP GİRİŞİ</text>
<text x="2612" y="2110" font-size="10" textLength="75" lengthAdjust="spacingAndGlyphs">EN 16005-E UYUMLU</text>
<text x="2627" y="2121" font-size="10" textLength="46" lengthAdjust="spacingAndGlyphs">KAYAR KAPI</text>
<text x="2805" y="621" class="e" textLength="42" lengthAdjust="spacingAndGlyphs">101.80</text>
<text x="2881" y="635" class="s" textLength="78" lengthAdjust="spacingAndGlyphs">OTOPARK ÇIKIŞI</text>
<text x="2874" y="756" class="e" textLength="42" lengthAdjust="spacingAndGlyphs">101.60</text>
<text x="3421" y="642" class="e" textLength="42" lengthAdjust="spacingAndGlyphs">101.20</text>
<text x="3307" y="809" class="e" textLength="42" lengthAdjust="spacingAndGlyphs">101.27</text>
<text x="3208" y="869" class="e" textLength="42" lengthAdjust="spacingAndGlyphs">101.25</text>
<text x="3731" y="802" class="e" textLength="42" lengthAdjust="spacingAndGlyphs">101.08</text>
<text x="3586" y="990" class="e" textLength="42" lengthAdjust="spacingAndGlyphs">101.00</text>
<text x="3456" y="1028" class="e" textLength="42" lengthAdjust="spacingAndGlyphs">100.98</text>
<text x="3309" y="1133" class="e" textLength="42" lengthAdjust="spacingAndGlyphs">100.94</text>
<text transform="translate(3098 896) rotate(52)" class="s" textLength="70" lengthAdjust="spacingAndGlyphs">HAKEM GİRİŞİ</text>
<text x="3453" y="1294" class="s" textLength="54" lengthAdjust="spacingAndGlyphs">OFİS GİRİŞİ</text>
<text x="3436" y="1352" class="s" textLength="70" lengthAdjust="spacingAndGlyphs">SEYİRCİ ÇIKIŞI</text>
<text x="3473" y="1431" class="s" textLength="70" lengthAdjust="spacingAndGlyphs">SEYİRCİ GİRİŞİ</text>
<text x="3436" y="1513" class="s" textLength="70" lengthAdjust="spacingAndGlyphs">SEYİRCİ ÇIKIŞI</text>
<text x="3426" y="1593" class="s" textLength="70" lengthAdjust="spacingAndGlyphs">SEYİRCİ ÇIKIŞI</text>
<text x="3272" y="1950" class="e" textLength="42" lengthAdjust="spacingAndGlyphs">100.42</text>
<text x="3380" y="1950" class="e" textLength="42" lengthAdjust="spacingAndGlyphs">100.31</text>
<text x="3268" y="2096" class="e" textLength="42" lengthAdjust="spacingAndGlyphs">100.39</text>
<text x="3388" y="2089" class="s" textLength="70" lengthAdjust="spacingAndGlyphs">SEYİRCİ GİRİŞİ</text>
<text x="3591" y="2174" class="e" textLength="33" lengthAdjust="spacingAndGlyphs">99.91</text>
<text x="3664" y="2243" class="e" textLength="35" lengthAdjust="spacingAndGlyphs">99.76</text>
<text x="3674" y="2320" class="e" textLength="33" lengthAdjust="spacingAndGlyphs">99.38</text>
<text x="3459" y="2342" font-size="37" textLength="358" lengthAdjust="spacingAndGlyphs" style="fill:#111">KAT İNŞAAT ALANI: 5515.23 m</text>
<text x="3819" y="2328" font-size="18" style="fill:#111">2</text>
<text transform="translate(3402 1473) rotate(-90)" font-size="10" textLength="70" lengthAdjust="spacingAndGlyphs">EN 16005-E UYUMLU</text>
<text transform="translate(3414 1462) rotate(-90)" font-size="10" textLength="40" lengthAdjust="spacingAndGlyphs">KAYAR KAPI</text>
<!-- small field labels -->
<text x="2119" y="1203" class="m" textLength="45" lengthAdjust="spacingAndGlyphs">Yönlama Kontrol Alanı</text>
<text x="2272" y="1203" class="m" textLength="36" lengthAdjust="spacingAndGlyphs">Fotoğrafçı Alanı</text>
<text x="2453" y="1203" class="m" textLength="30" lengthAdjust="spacingAndGlyphs">Top Toplayıcı</text>
<text x="2608" y="1203" class="m" textLength="36" lengthAdjust="spacingAndGlyphs">Fotoğrafçı Alanı</text>
<text x="2079" y="1210" class="m">Top Toplayıcı</text>
<text x="2057" y="1243" class="m">Ticari Servis</text>
<text x="2136" y="1264" class="m">Serbest Bölge</text>
<text x="2136" y="1600" class="m">Serbest Bölge</text>
<text x="2466" y="1294" class="m">Hakem</text>
<text x="2065" y="1346" class="m">Takım Malzemeleri</text>
<text x="2065" y="1462" class="m">Takım Malzemeleri</text>
<text x="2063" y="1403" class="m">Hakem</text>
<text x="2092" y="1665" class="m">Kablo kanalları için açılabilir döşeme</text>
<text x="2052" y="1716" class="m">Yangın Kontrol Alanı</text>
<text x="2313" y="1708" class="m">Isınma Alanı</text>
<text x="2590" y="1708" class="m">Isınma Alanı</text>
<text x="2313" y="1662" class="m">Spor Alanı</text>
<text x="2590" y="1662" class="m">Spor Alanı</text>
<text x="2449" y="1658" class="m">Hakem Masası</text>
<text x="2156" y="1742" class="m">Fanatik Bölgesi</text>
<text x="2236" y="1745" class="m">Geçiş Antidoten Masası</text>
<text x="2371" y="1737" class="m">Müsabaka Masası</text>
<text x="2486" y="1737" class="m">Gösterge Kontrol</text>
<text x="2337" y="1769" class="m">Görevli</text>
<text x="2575" y="1769" class="m">Görevli</text>
<text x="2820" y="1246" class="m">Fotoğrafçı Alanı</text>
<text x="2841" y="1476" class="m">Takım Malzemeleri</text>
<text x="2794" y="1597" class="m">Serbest Bölge</text>
<text x="2826" y="1651" class="m">Top Toplayıcı</text>
<text x="2791" y="1716" class="m">Yangın Kontrol Alanı</text>
<text x="2750" y="1741" class="m">Fanatik Bölgesi</text>
<text transform="translate(2472 1525) rotate(-90)" class="m">RIS 800 x 100</text>
<text x="3290" y="1790" class="m" transform="rotate(90 3290 1790)">YR-2</text>
<text x="3325" y="1790" class="m" transform="rotate(90 3325 1790)">YR-1</text>
<text x="3540" y="1498" class="m">10x15/60 PMM</text>
<text transform="translate(3492 1660) rotate(-80)" class="m">eğim %8.3</text>
<text transform="translate(3526 1660) rotate(-80)" class="m">eğim %8.3</text>
<text x="3366" y="2030" class="m">eğim %1.5</text>
<text x="3400" y="1555" class="m">eğim %2</text>
<text transform="translate(3098 2240) rotate(-90)" class="m">PMOR 4x30/60</text>
<text transform="translate(3490 2230) rotate(-90)" class="m">PMOR 14x30/30</text>
<text x="3494" y="2195" font-size="8" font-weight="bold">14 13 12 11 10 9 8 7 6 5 4 3 2 1</text>
<text x="3464" y="1572" font-size="8" font-weight="bold">10 9 8 7 6 5 4 3 2 1</text>
<text x="950" y="2142" font-size="8" font-weight="bold" style="fill:#000">6 5 4 3 2 1</text>
<text x="1698" y="1966" class="m">AS-02 (SPOR03)</text>
<text x="2710" y="2056" font-size="7" font-weight="bold">AS-06 (VIP)</text>
<text x="3225" y="1290" font-size="7" font-weight="bold">AS-04 (VAKIF)</text>
<text x="3370" y="1172" font-size="7" font-weight="bold">AS-03 (VIP)</text>
<text x="2445" y="692" font-size="9" style="fill:#777">1330</text>
<text x="838" y="2020" font-size="7" font-weight="bold">AS-01 (KONAKLAMA)</text>
</g>
</svg>
</body></html>
